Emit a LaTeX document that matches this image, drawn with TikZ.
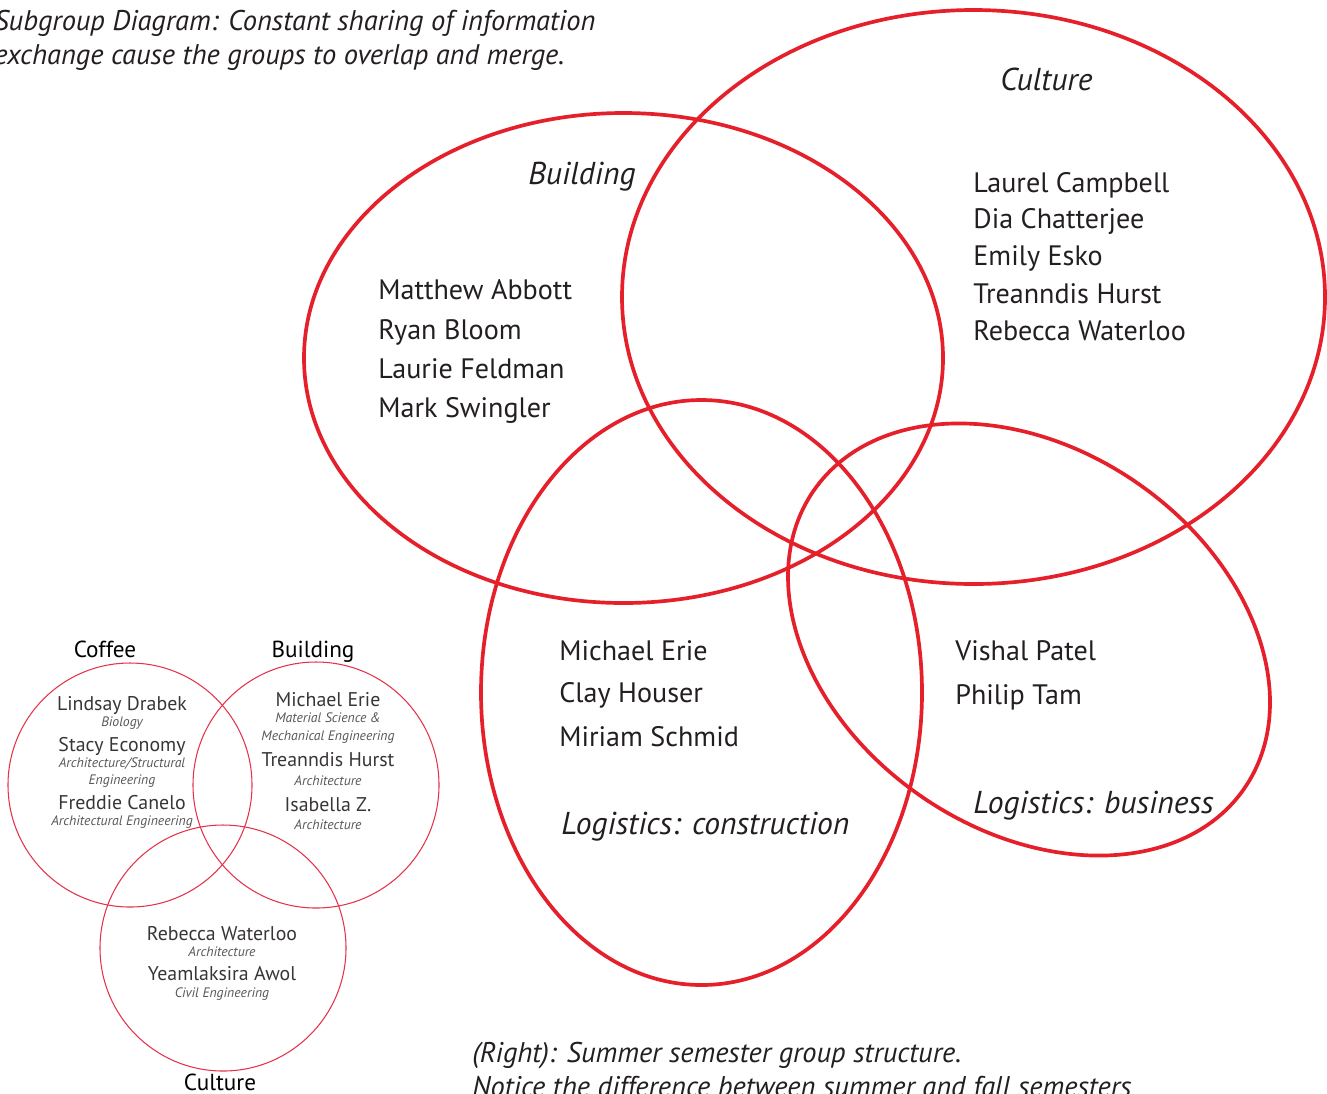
\documentclass[tikz,border=0pt]{standalone}
\usepackage{fontspec}
\setmainfont{PT Sans}
\definecolor{vennred}{RGB}{230,32,42}
\definecolor{thinred}{RGB}{228,50,75}
\definecolor{inkgray}{RGB}{35,31,32}

\tikzset{
  group/.style={draw=vennred, line width=2.1pt},
  smallgroup/.style={draw=thinred, line width=0.6pt},
  member/.style={anchor=base west, inner sep=0pt, text=inkgray, font=\fontsize{16}{19}\selectfont},
  grouptitle/.style={anchor=base west, inner sep=0pt, text=inkgray, font=\fontsize{18}{21}\selectfont\itshape},
  caption/.style={anchor=base west, inner sep=0pt, text=inkgray, font=\fontsize{16.2}{19}\selectfont\itshape},
  smallname/.style={anchor=base, inner sep=0pt, text=inkgray!90, font=\fontsize{11.3}{13}\selectfont},
  smallfield/.style={anchor=base, inner sep=0pt, text=inkgray!75, font=\fontsize{7.8}{9}\selectfont\itshape},
  smalltitle/.style={anchor=base, inner sep=0pt, text=black, font=\fontsize{13.2}{15}\selectfont}
}

\begin{document}
\begin{tikzpicture}[x=0.02cm, y=-0.02cm]
  \clip (0,0) rectangle (1327,1093);
  \fill[white] (0,0) rectangle (1327,1093);

  % summer groups
  \draw[group] (623.5,358) ellipse (319.5 and 245);
  \draw[group] (973.5,297) ellipse (351.5 and 287);
  \draw[group] (701.5,692.5) ellipse (220.5 and 292.5);
  \draw[group, rotate around={-34.7:(1029,639.5)}] (1029,639.5) ellipse (261.8 and 190.3);

  \node[caption] (cap1) at (-6,30) {Subgroup Diagram: Constant sharing of information};
  \node[caption] (cap2) at (-6,64) {exchange cause the groups to overlap and merge.};

  \node[grouptitle] (culture) at (1000,90) {Culture};
  \node[grouptitle] (building) at (528,184) {Building};
  \node[grouptitle] (logcon) at (561,834) {Logistics: construction};
  \node[grouptitle] (logbus) at (973,813) {Logistics: business};

  \node[member] (b1) at (378,299) {Matthew Abbott};
  \node[member] (b2) at (378,339) {Ryan Bloom};
  \node[member] (b3) at (378,378) {Laurie Feldman};
  \node[member] (b4) at (378,417) {Mark Swingler};

  \node[member] (c1) at (973,192) {Laurel Campbell};
  \node[member] (c2) at (973,228) {Dia Chatterjee};
  \node[member] (c3) at (973,265) {Emily Esko};
  \node[member] (c4) at (973,303) {Treanndis Hurst};
  \node[member] (c5) at (973,340) {Rebecca Waterloo};

  \node[member] (l1) at (559,660) {Michael Erie};
  \node[member] (l2) at (559,702) {Clay Houser};
  \node[member] (l3) at (559,746) {Miriam Schmid};

  \node[member] (v1) at (955,660) {Vishal Patel};
  \node[member] (v2) at (955,704) {Philip Tam};

  % fall groups
  \draw[smallgroup] (130,785) circle (122);
  \draw[smallgroup] (316,785) circle (123);
  \draw[smallgroup] (223,948) circle (123);

  \node[smalltitle] (coffee) at (105,657) {Coffee};
  \node[smalltitle] (fbuilding) at (313,657) {Building};
  \node[smalltitle] (fculture) at (220,1090) {Culture};

  \node[smallname] (f1) at (122,710) {Lindsay Drabek};
  \node[smallfield] (f1a) at (122,726) {Biology};
  \node[smallname] (f2) at (122,751) {Stacy Economy};
  \node[smallfield] (f2a) at (122,767) {Architecture/Structural};
  \node[smallfield] (f2b) at (122,784) {Engineering};
  \node[smallname] (f3) at (122,809) {Freddie Canelo};
  \node[smallfield] (f3a) at (122,825) {Architectural Engineering};

  \node[smallname] (g1) at (328,706) {Michael Erie};
  \node[smallfield] (g1a) at (328,722) {Material Science \&};
  \node[smallfield] (g1b) at (328,740) {Mechanical Engineering};
  \node[smallname] (g2) at (328,766) {Treanndis Hurst};
  \node[smallfield] (g2a) at (328,785) {Architecture};
  \node[smallname] (g3) at (328,811) {Isabella Z.};
  \node[smallfield] (g3a) at (328,829) {Architecture};

  \node[smallname] (h1) at (222,940) {Rebecca Waterloo};
  \node[smallfield] (h1a) at (222,956) {Architecture};
  \node[smallname] (h2) at (222,980) {Yeamlaksira Awol};
  \node[smallfield] (h2a) at (222,997) {Civil Engineering};

  \node[caption] (note1) at (472,1062) {(Right): Summer semester group structure.};
  \node[caption] (note2) at (472,1096) {Notice the difference between summer and fall semesters};
\end{tikzpicture}
\end{document}
